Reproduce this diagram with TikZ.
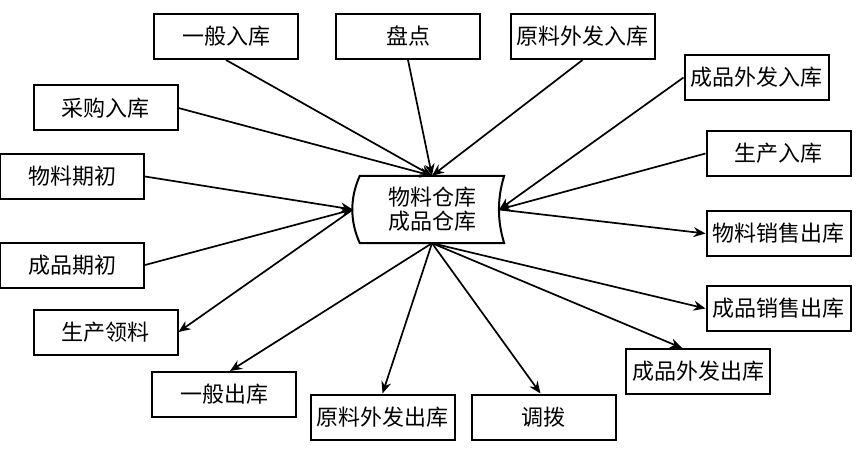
\documentclass[tikz,border=0pt]{standalone}
\usepackage{fontspec}
\setmainfont{Noto Sans CJK SC}
\usetikzlibrary{arrows.meta,positioning,calc}

\begin{document}
\begin{tikzpicture}[
  x=1pt, y=-1pt,
  every node/.style={font=\fontsize{22pt}{24pt}\selectfont},
  opbox/.style={
    draw=black, line width=2pt,
    minimum height=45pt, minimum width=144pt,
    inner sep=2pt, align=center
  },
  store/.style={
    minimum height=67pt, minimum width=144pt,
    inner sep=0pt, align=center
  },
  arr/.style={-{Stealth[length=12pt,width=10pt]}, line width=1.7pt, draw=black}
]
  \useasboundingbox (0,0) rectangle (858,454);

  % warehouse in the middle
  \node[store] (wh) at (432,209.5) {物料仓库\\成品仓库};
  \draw[line width=2pt]
    (wh.north west) .. controls +(-10,22) and +(-10,-22) .. (wh.south west)
    -- (wh.south east) .. controls +(-7,-22) and +(-7,22) .. (wh.north east)
    -- cycle;
  \coordinate (wh-l) at ([xshift=-7pt]wh.west);
  \coordinate (wh-r) at ([xshift=-5pt]wh.east);

  % incoming
  \node[opbox] (genin)    at (226,36.5)   {一般入库};
  \node[opbox] (count)    at (408,36.5)   {盘点};
  \node[opbox] (rawoutin) at (582.5,36.5) {原料外发入库};
  \node[opbox] (buyin)    at (105.5,108)  {采购入库};
  \node[opbox] (finoutin) at (756.5,77.5) {成品外发入库};
  \node[opbox] (prodin)   at (778.5,153.5) {生产入库};
  \node[opbox] (matinit)  at (72,176.5)   {物料期初};
  \node[opbox] (fininit)  at (72,265)     {成品期初};

  % outgoing
  \node[opbox] (matsale)   at (778.5,233.5) {物料销售出库};
  \node[opbox] (prodpick)  at (105.5,332)   {生产领料};
  \node[opbox] (finsale)   at (778.5,308.5) {成品销售出库};
  \node[opbox] (finoutout) at (698,371.5)   {成品外发出库};
  \node[opbox] (genout)    at (224,394.5)   {一般出库};
  \node[opbox] (rawoutout) at (382.5,417)   {原料外发出库};
  \node[opbox, right=15pt of rawoutout] (transfer) {调拨};

  \draw[arr] (genin.south)    -- (wh.north);
  \draw[arr] (count.south)    -- (wh.north);
  \draw[arr] (rawoutin.south) -- (wh.north);
  \draw[arr] (buyin.east)     -- (wh.north);
  \draw[arr] (matinit.east)   -- (wh-l);
  \draw[arr] (fininit.east)   -- (wh-l);
  \draw[arr] (finoutin.west)  -- (wh-r);
  \draw[arr] (prodin.west)    -- (wh-r);

  \draw[arr] (wh-r)     -- (matsale.west);
  \draw[arr] (wh-l)     -- (prodpick.east);
  \draw[arr] (wh.south) -- (finsale.west);
  \draw[arr] (wh.south) -- ([xshift=-16pt]finoutout.north);
  \draw[arr] (wh.south) -- ([xshift=6pt]genout.north);
  \draw[arr] (wh.south) -- (rawoutout.north);
  \draw[arr] (wh.south) -- ([xshift=-3pt]transfer.north);
\end{tikzpicture}
\end{document}
